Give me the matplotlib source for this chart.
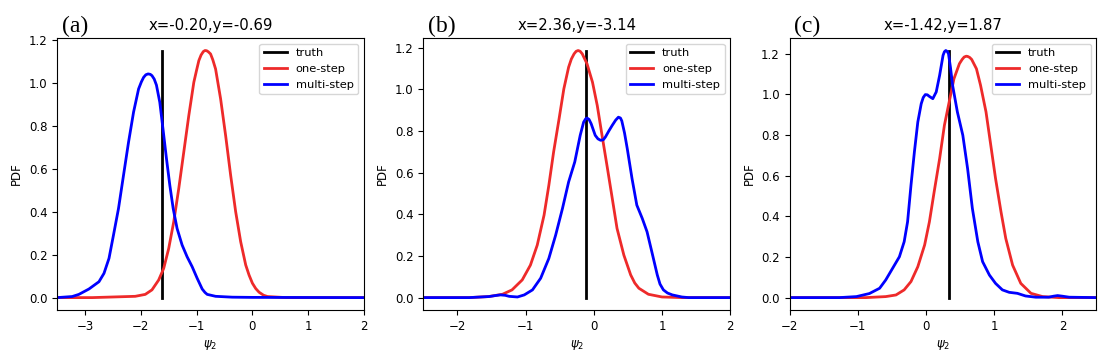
import numpy as np
import matplotlib.pyplot as plt

# panel (a)
a_multi_x = [-3.5, -3.23, -3.11, -2.93, -2.75, -2.66, -2.57, -2.49, -2.40, -2.31, -2.22, -2.13, -2.04, -1.99,
             -1.95, -1.91, -1.87, -1.83, -1.80, -1.76, -1.72, -1.66, -1.60, -1.54, -1.48, -1.42, -1.35, -1.26,
             -1.17, -1.08, -0.99, -0.90, -0.85, -0.81, -0.66, -0.36, 0.0, 2.0]
a_multi_y = [0, 0.005, 0.015, 0.04, 0.074, 0.113, 0.183, 0.291, 0.415, 0.57, 0.724, 0.864, 0.972, 1.005,
             1.026, 1.038, 1.042, 1.04, 1.034, 1.018, 0.99, 0.91, 0.78, 0.647, 0.523, 0.415, 0.322, 0.245,
             0.19, 0.144, 0.09, 0.04, 0.024, 0.015, 0.006, 0.002, 0.001, 0]
a_one_x = [-3.5, -2.87, -2.10, -1.92, -1.80, -1.68, -1.59, -1.50, -1.41, -1.32, -1.23, -1.14, -1.05, -1.0,
           -0.96, -0.92, -0.88, -0.85, -0.82, -0.79, -0.75, -0.71, -0.66, -0.57, -0.48, -0.39, -0.30, -0.21,
           -0.12, -0.06, 0.0, 0.06, 0.12, 0.2, 0.27, 0.6, 2.0]
a_one_y = [0, 0, 0.006, 0.015, 0.036, 0.082, 0.136, 0.229, 0.353, 0.508, 0.678, 0.848, 1.003, 1.06,
           1.104, 1.13, 1.146, 1.151, 1.15, 1.145, 1.135, 1.108, 1.065, 0.926, 0.755, 0.57, 0.40, 0.26,
           0.152, 0.105, 0.067, 0.042, 0.025, 0.011, 0.005, 0, 0]

# panel (b)
b_multi_x = [-2.5, -1.83, -1.54, -1.44, -1.37, -1.30, -1.24, -1.12, -1.02, -0.90, -0.78, -0.66, -0.56, -0.46,
             -0.37, -0.28, -0.20, -0.15, -0.12, -0.10, -0.07, -0.04, 0.02, 0.06, 0.10, 0.14, 0.17, 0.22, 0.27,
             0.32, 0.36, 0.39, 0.41, 0.45, 0.49, 0.56, 0.63, 0.71, 0.78, 0.85, 0.93, 0.97, 1.02, 1.08, 1.15,
             1.29, 1.39, 2.0]
b_multi_y = [0, 0, 0.005, 0.01, 0.013, 0.011, 0.006, 0.003, 0.013, 0.037, 0.093, 0.188, 0.30, 0.428,
             0.555, 0.651, 0.779, 0.842, 0.858, 0.862, 0.855, 0.835, 0.779, 0.762, 0.755, 0.758, 0.771, 0.80, 0.827,
             0.852, 0.866, 0.862, 0.848, 0.79, 0.715, 0.571, 0.444, 0.38, 0.316, 0.22, 0.109, 0.065, 0.037, 0.022, 0.013,
             0.003, 0, 0]
b_one_x = [-2.5, -1.83, -1.54, -1.34, -1.20, -1.05, -0.93, -0.83, -0.73, -0.66, -0.59, -0.51, -0.44, -0.37,
           -0.33, -0.29, -0.26, -0.23, -0.20, -0.17, -0.10, -0.02, 0.05, 0.12, 0.20, 0.27, 0.34, 0.44, 0.54,
           0.60, 0.66, 0.80, 1.0, 1.3, 2.0]
b_one_y = [0, 0, 0.005, 0.016, 0.037, 0.085, 0.156, 0.252, 0.396, 0.539, 0.699, 0.858, 1.002, 1.106,
           1.145, 1.17, 1.182, 1.186, 1.182, 1.17, 1.122, 1.034, 0.922, 0.779, 0.619, 0.476, 0.332, 0.204, 0.109,
           0.07, 0.045, 0.016, 0.003, 0, 0]

# panel (c)
c_multi_x = [-2.0, -1.27, -1.02, -0.83, -0.68, -0.59, -0.49, -0.39, -0.32, -0.27, -0.22, -0.17, -0.12, -0.07,
             -0.04, -0.01, 0.02, 0.05, 0.10, 0.15, 0.20, 0.25, 0.27, 0.29, 0.31, 0.33, 0.36, 0.39, 0.46, 0.54,
             0.61, 0.68, 0.76, 0.83, 0.93, 1.02, 1.12, 1.22, 1.34, 1.46, 1.61, 1.80, 1.87, 1.93, 2.0, 2.10, 2.5]
c_multi_y = [0, 0, 0.005, 0.02, 0.046, 0.087, 0.144, 0.201, 0.275, 0.373, 0.553, 0.717, 0.864, 0.954,
             0.985, 0.999, 0.998, 0.99, 0.979, 1.012, 1.094, 1.192, 1.21, 1.216, 1.212, 1.2, 1.13, 1.045, 0.914, 0.799,
             0.635, 0.439, 0.275, 0.177, 0.111, 0.07, 0.038, 0.026, 0.021, 0.008, 0.002, 0.002, 0.007, 0.01, 0.007, 0.002, 0]
c_one_x = [-2.0, -0.88, -0.59, -0.44, -0.32, -0.22, -0.12, -0.02, 0.05, 0.12, 0.20, 0.27, 0.34, 0.41, 0.49,
           0.53, 0.56, 0.59, 0.61, 0.64, 0.67, 0.74, 0.80, 0.88, 0.95, 1.02, 1.10, 1.17, 1.27, 1.39, 1.54,
           1.71, 1.95, 2.5]
c_one_y = [0, 0, 0.005, 0.013, 0.038, 0.079, 0.152, 0.259, 0.373, 0.521, 0.684, 0.848, 0.963, 1.077, 1.151,
           1.172, 1.184, 1.188, 1.187, 1.182, 1.172, 1.126, 1.045, 0.914, 0.75, 0.586, 0.422, 0.291, 0.16, 0.07, 0.021,
           0.005, 0, 0]

truth_x = [-1.62, -0.11, 0.34]
truth_top = [1.15, 1.186, 1.216]
titles = ['x=-0.20,y=-0.69', 'x=2.36,y=-3.14', 'x=-1.42,y=1.87']
letters = ['(a)', '(b)', '(c)']
xlims = [(-3.5, 2), (-2.5, 2), (-2, 2.5)]

panels = [(a_one_x, a_one_y, a_multi_x, a_multi_y),
          (b_one_x, b_one_y, b_multi_x, b_multi_y),
          (c_one_x, c_one_y, c_multi_x, c_multi_y)]

fig = plt.figure(figsize=(11.2, 3.6), dpi=100)
lefts = [0.051, 0.378, 0.705]

for i in range(3):
    ax = fig.add_axes([lefts[i], 0.139, 0.274, 0.755])
    ox, oy, mx, my = panels[i]
    ax.plot([truth_x[i], truth_x[i]], [0, truth_top[i]], color='k', lw=2, label='truth')
    ax.plot(ox, oy, color='#ee2a2a', lw=2, label='one-step')
    ax.plot(mx, my, color='b', lw=2, label='multi-step')
    ax.set_xlim(xlims[i])
    ax.set_title(titles[i], fontsize=10.7)
    ax.set_xlabel(r'$\psi_2$', fontsize=8.5)
    ax.set_ylabel('PDF', fontsize=8.5)
    ax.tick_params(labelsize=8.5)
    ax.legend(loc='upper right', fontsize=8.2)
    fig.text(lefts[i] + 0.004, 0.911, letters[i], fontsize=17, family='Liberation Serif', va='baseline')

fig.savefig('out.png', dpi=100)
